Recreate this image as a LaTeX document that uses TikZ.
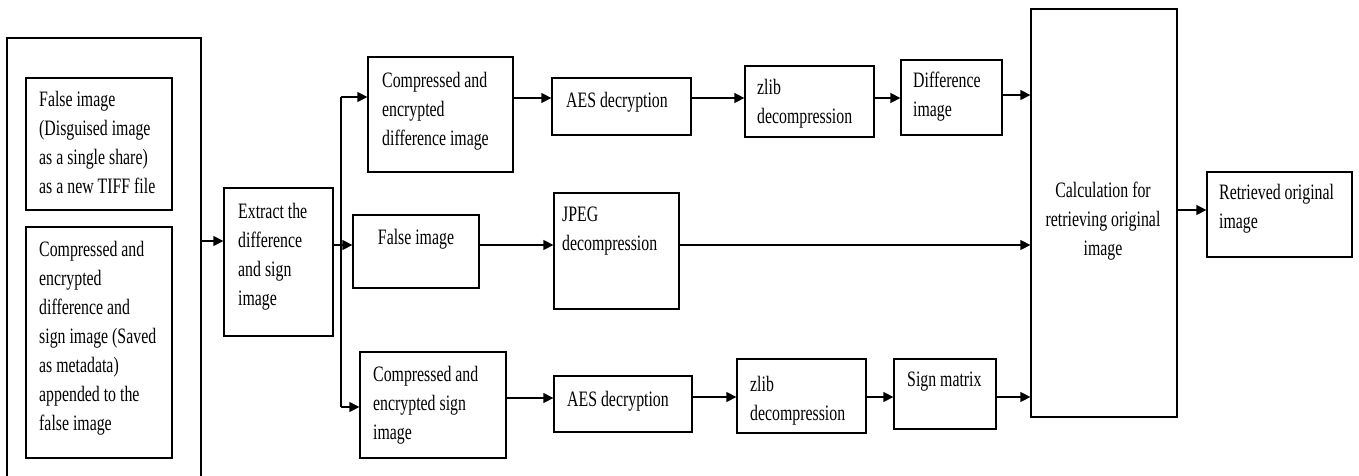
\documentclass[tikz,border=0pt]{standalone}
\usepackage{fontspec}
\setmainfont[FakeStretch=0.72]{Liberation Serif}
\usetikzlibrary{arrows.meta,fit}
\begin{document}
\begin{tikzpicture}[x=1pt,y=-1pt,
  box/.style={draw=black,line width=1.3pt,inner sep=0pt},
  txt/.style={inner sep=0pt,anchor=north west,align=left,font=\fontsize{22}{29}\selectfont},
  ctxt/.style={inner sep=0pt,anchor=north,align=center,font=\fontsize{22}{29}\selectfont},
  arr/.style={line width=1.3pt,-{Triangle[length=10pt,width=10pt]}},
  ln/.style={line width=1.3pt}]
\useasboundingbox (0,0) rectangle (1359,476);
% boxes
\node[box,fit={(7,38)(201,495)}] (outer) {};
\node[box,fit={(26,78)(172,210)}] (fi) {};
\node[box,fit={(26,227)(172,458)}] (ce) {};
\node[box,fit={(224,188)(333,336)}] (ex) {};
\node[box,fit={(368,57)(513,172)}] (cd) {};
\node[box,fit={(353,215)(479,288)}] (fa) {};
\node[box,fit={(360,352)(506,458)}] (cs) {};
\node[box,fit={(552,78)(691,135)}] (aa) {};
\node[box,fit={(554,193)(679,309)}] (jp) {};
\node[box,fit={(554,376)(692,432)}] (ab) {};
\node[box,fit={(745,66)(874,137)}] (za) {};
\node[box,fit={(737,359)(866,433)}] (zb) {};
\node[box,fit={(901,60)(1002,135)}] (di) {};
\node[box,fit={(894,359)(996,429)}] (sm) {};
\node[box,fit={(1031,9)(1177,417)}] (ca) {};
\node[box,fit={(1207,172)(1352,257)}] (re) {};
% texts
\node[txt] (fi-t) at (39,91) {False image\\(Disguised image\\as a single share)\\as a new TIFF file};
\node[txt] (ce-t) at (39,241) {Compressed and\\encrypted\\difference and\\sign image (Saved\\as metadata)\\appended to the\\false image};
\node[txt] (ex-t) at (238,203) {Extract the\\difference\\and sign\\image};
\node[txt] (cd-t) at (382,72) {Compressed and\\encrypted\\difference image};
\node[ctxt] (fa-t) at (416,229) {False image};
\node[txt] (cs-t) at (373,366) {Compressed and\\encrypted sign\\image};
\node[txt] (aa-t) at (566,92) {AES decryption};
\node[txt] (jp-t) at (562,207) {JPEG\\decompression};
\node[txt] (ab-t) at (567,391) {AES decryption};
\node[txt] (za-t) at (757,79) {zlib\\decompression};
\node[txt] (zb-t) at (750,376) {zlib\\decompression};
\node[txt] (di-t) at (913,72) {Difference\\image};
\node[txt] (sm-t) at (907,372) {Sign matrix};
\node[ctxt] (ca-t) at (1103,182) {Calculation for\\retrieving original\\image};
\node[txt] (re-t) at (1219,184) {Retrieved original\\image};
% connectors
\draw[arr] (outer.east |- 0,241) -- (ex.west |- 0,241);
\coordinate (tt) at (341,97);
\coordinate (tm) at (341,245);
\coordinate (tb) at (341,407);
\draw[ln] (ex.east |- tm) -- (tm);
\draw[ln] (tt) -- (tb);
\draw[arr] (tt) -- (cd.west |- tt);
\draw[arr] (tm) -- (fa.west |- tm);
\draw[arr] (tb) -- (cs.west |- tb);
\draw[arr] (cd.east |- 0,98) -- (aa.west |- 0,98);
\draw[arr] (aa.east |- 0,98) -- (za.west |- 0,98);
\draw[arr] (za.east |- 0,98) -- (di.west |- 0,98);
\draw[arr] (di.east |- 0,95) -- (ca.west |- 0,95);
\draw[arr] (fa.east |- 0,245) -- (jp.west |- 0,245);
\draw[arr] (jp.east |- 0,245) -- (ca.west |- 0,245);
\draw[arr] (cs.east |- 0,398) -- (ab.west |- 0,398);
\draw[arr] (ab.east |- 0,397) -- (zb.west |- 0,397);
\draw[arr] (zb.east |- 0,397) -- (sm.west |- 0,397);
\draw[arr] (sm.east |- 0,397) -- (ca.west |- 0,397);
\draw[arr] (ca.east |- 0,210) -- (re.west |- 0,210);
\end{tikzpicture}
\end{document}
